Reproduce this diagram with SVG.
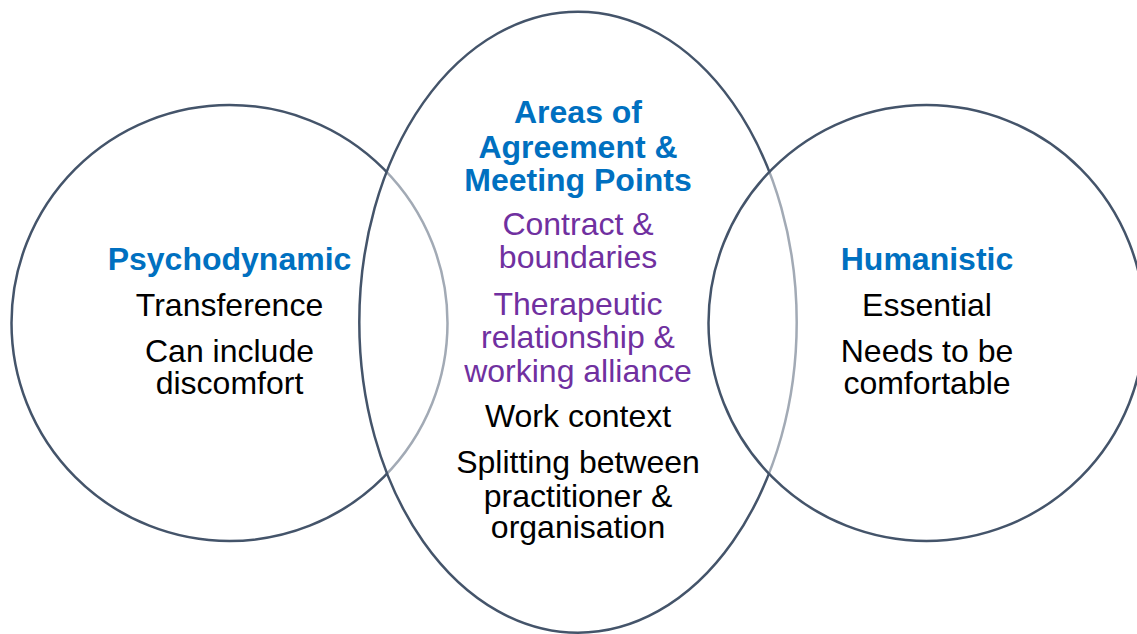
<svg xmlns="http://www.w3.org/2000/svg" width="1137" height="634" viewBox="0 0 1137 634">
<style>
.shape{fill:#ffffff;fill-opacity:0.5;stroke:#44546A;stroke-width:2.5}
text{font-family:"Liberation Sans",Arial,sans-serif;font-size:32px;text-anchor:middle}
.title{fill:#0070C0;font-weight:bold}
.purple{fill:#7030A0}
.black{fill:#000000}
</style>
<rect x="0" y="0" width="1137" height="634" fill="#ffffff"/>
<g id="connectors"></g>
<g id="psychodynamic">
<circle class="shape" cx="229.5" cy="323" r="218"/>
<text class="title" x="229.5" y="270">Psychodynamic</text>
<text class="black" x="229.5" y="316">Transference</text>
<text class="black" x="229.5" y="361.7">Can include</text>
<text class="black" x="229.5" y="394.3">discomfort</text>
</g>
<g id="agreement">
<ellipse class="shape" cx="578" cy="322.2" rx="218.7" ry="310.5"/>
<text class="title" x="578" y="123.3">Areas of</text>
<text class="title" x="578" y="158.3">Agreement &amp;</text>
<text class="title" x="578" y="191">Meeting Points</text>
<text class="purple" x="578" y="235">Contract &amp;</text>
<text class="purple" x="578" y="268.3">boundaries</text>
<text class="purple" x="578" y="315">Therapeutic</text>
<text class="purple" x="578" y="348.3">relationship &amp;</text>
<text class="purple" x="578" y="381.7">working alliance</text>
<text class="black" x="578" y="426.7">Work context</text>
<text class="black" x="578" y="473.3">Splitting between</text>
<text class="black" x="578" y="506.7">practitioner &amp;</text>
<text class="black" x="578" y="538.3">organisation</text>
</g>
<g id="humanistic">
<circle class="shape" cx="926.5" cy="323" r="218"/>
<text class="title" x="927" y="270">Humanistic</text>
<text class="black" x="927" y="316">Essential</text>
<text class="black" x="927" y="361.7">Needs to be</text>
<text class="black" x="927" y="394.3">comfortable</text>
</g>
</svg>
